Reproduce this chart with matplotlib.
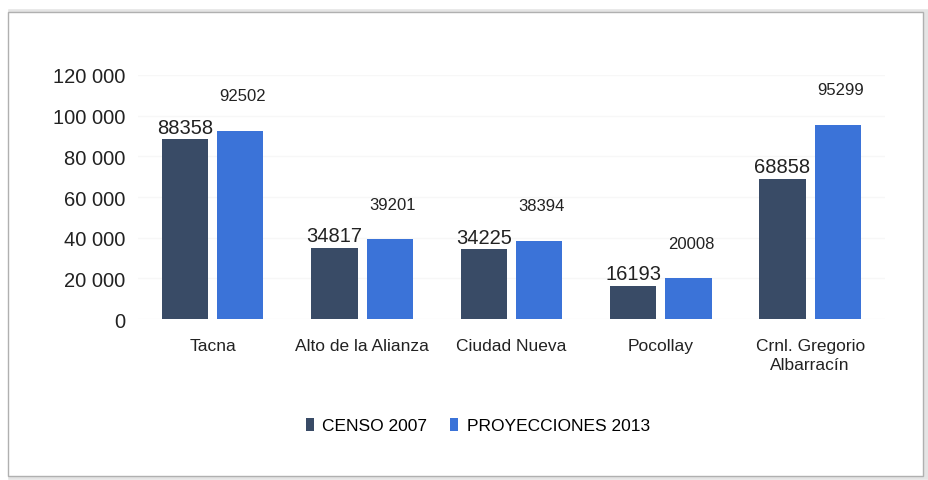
import matplotlib.pyplot as plt
from matplotlib.patches import Rectangle
import numpy as np

districts = ["Tacna", "Alto de la Alianza", "Ciudad Nueva", "Pocollay", "Crnl. Gregorio\nAlbarracín"]
censo_2007 = [88358, 34817, 34225, 16193, 68858]
proy_2013 = [92502, 39201, 38394, 20008, 95299]
yticks = [0, 20000, 40000, 60000, 80000, 100000, 120000]
ytick_labels = ["0", "20 000", "40 000", "60 000", "80 000", "100 000", "120 000"]

plt.rcParams['font.family'] = ['Liberation Sans Narrow', 'Liberation Sans', 'DejaVu Sans']

fig = plt.figure(figsize=(9.29, 4.81), dpi=100)
# frame with soft shadow
fig.patches.append(Rectangle((0.012, 0.006), 0.985, 0.968, transform=fig.transFigure,
                             facecolor="none", edgecolor="#e4e4e4", lw=4, zorder=-2))
fig.patches.append(Rectangle((0.009, 0.008), 0.985, 0.966, transform=fig.transFigure,
                             facecolor="white", edgecolor="#b0b0b0", lw=1, zorder=-1))

ax = fig.add_axes([0.1485, 0.3347, 0.804, 0.5073])
ax.patch.set_visible(False)
x = np.arange(len(districts))
w = 0.31
dark = "#394b66"
blue = "#3b73d8"
ax.bar(x - w / 2 - 0.03, censo_2007, w, color=dark, label="CENSO 2007", zorder=3)
ax.bar(x + w / 2 + 0.03, proy_2013, w, color=blue, label="PROYECCIONES 2013", zorder=3)

for i in range(len(districts)):
    ax.annotate(str(censo_2007[i]), (x[i] - w / 2 - 0.03, censo_2007[i]), xytext=(0, 2),
                textcoords="offset points", ha="center", va="bottom", fontsize=14.5, color="#222222")
    ax.annotate(str(proy_2013[i]), (x[i] + w / 2 + 0.03, proy_2013[i]), xytext=(2, 20),
                textcoords="offset points", ha="center", va="bottom", fontsize=12, color="#222222")

ax.set_xlim(-0.5, len(districts) - 0.5)
ax.set_ylim(0, 120000)
ax.set_yticks(yticks)
ax.set_yticklabels(ytick_labels, fontsize=14.5, color="#222222")
ax.set_xticks(x)
ax.set_xticklabels(districts, fontsize=12.5, color="#222222", linespacing=1.3)
ax.tick_params(length=0)
ax.tick_params(axis="y", pad=9)
ax.tick_params(axis="x", pad=14)
ax.yaxis.grid(True, color="#f7f7f7", lw=1, zorder=0)
for s in ax.spines.values():
    s.set_visible(False)

ax.legend(loc="upper center", bbox_to_anchor=(0.455, -0.34), ncol=2, frameon=False,
          fontsize=12.5, handlelength=0.45, handleheight=0.8, handletextpad=0.5, columnspacing=1.3)

fig.savefig("out.png", dpi=100)
